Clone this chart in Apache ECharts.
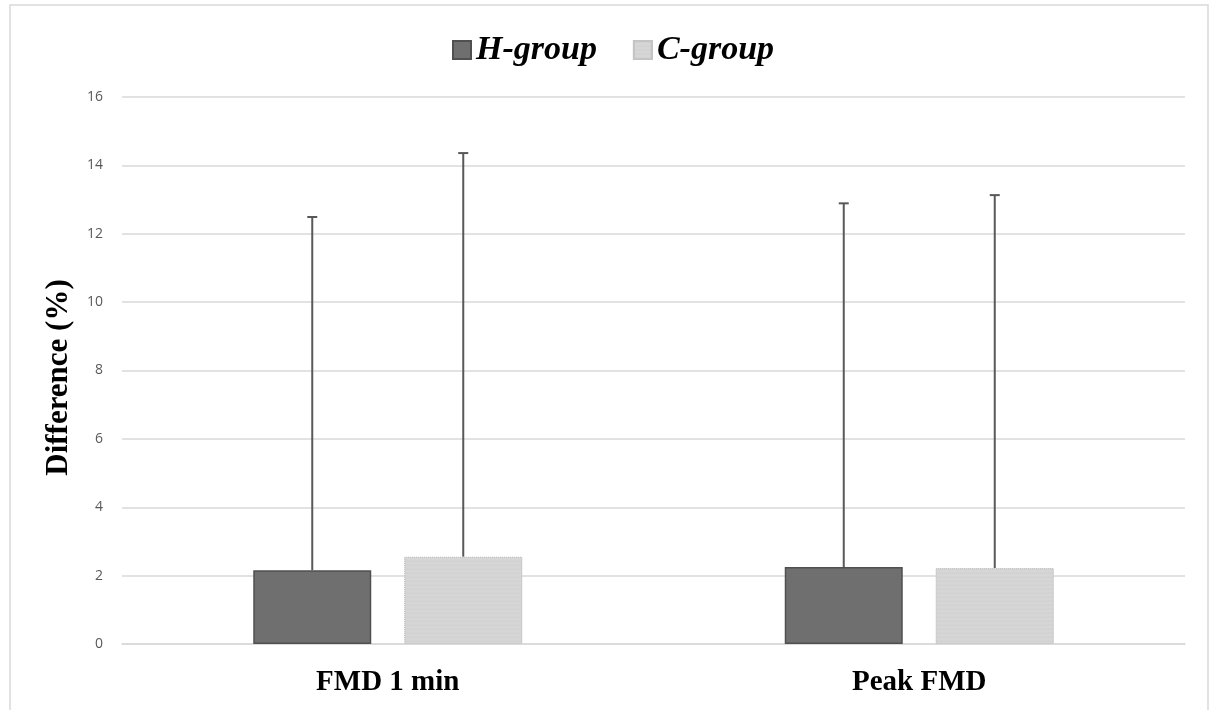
<!DOCTYPE html>
<html><head><meta charset="utf-8">
<script src="https://cdn.jsdelivr.net/npm/echarts@6/dist/echarts.min.js"></script>
<style>html,body{margin:0;padding:0;background:#fff}#c{width:1210px;height:710px}</style>
</head><body><div id="c"></div>
<script>
var categories = ['FMD 1 min', 'Peak FMD'];
var seriesNames = ['H-group', 'C-group'];
var hValues = [2.16, 2.25];
var cValues = [2.55, 2.22];
var hErrTop = [12.49, 12.89];
var cErrTop = [14.36, 13.13];
var yTicks = [0, 2, 4, 6, 8, 10, 12, 14, 16];

var BAR_W = 118, BAR_GAP = 33;
var chart = echarts.init(document.getElementById('c'));
function errSeries(vals, tops, side) {
  return {
    type: 'custom',
    z: 1,
    silent: true,
    data: vals.map(function (v, i) { return [i, v, tops[i]]; }),
    renderItem: function (params, api) {
      var lo = api.coord([api.value(0), api.value(1)]);
      var hi = api.coord([api.value(0), api.value(2)]);
      var x = lo[0] + side * (BAR_W + BAR_GAP) / 2;
      var st = { stroke: '#595959', lineWidth: 2 };
      return { type: 'group', children: [
        { type: 'line', shape: { x1: x, y1: lo[1], x2: x, y2: hi[1] }, style: st },
        { type: 'line', shape: { x1: x - 5, y1: hi[1], x2: x + 5, y2: hi[1] }, style: st }
      ]};
    }
  };
}
var option = {
  animation: false,
  backgroundColor: '#fff',
  graphic: [{ type: 'rect', shape: { x: 10, y: 5, width: 1198, height: 710 },
    style: { fill: 'none', stroke: '#d9d9d9', lineWidth: 1.5 }, silent: true }],
  legend: {
    data: seriesNames, top: 28, left: 447, itemWidth: 18, itemHeight: 18, itemGap: 36,
    icon: 'rect',
    textStyle: { fontFamily: 'Liberation Serif', fontStyle: 'italic', fontWeight: 'bold', fontSize: 34, color: '#000' }
  },
  grid: { left: 122, right: 25, top: 97, bottom: 66 },
  xAxis: {
    type: 'category', data: categories,
    axisLine: { lineStyle: { color: '#d9d9d9', width: 1.5 } },
    axisTick: { show: false },
    axisLabel: { fontFamily: 'Liberation Serif', fontWeight: 'bold', fontSize: 29, color: '#000', margin: 24 }
  },
  yAxis: {
    type: 'value', min: 0, max: 16, interval: 2,
    name: 'Difference (%)', nameLocation: 'middle', nameGap: 48, nameRotate: 90,
    nameTextStyle: { fontFamily: 'Liberation Serif', fontWeight: 'bold', fontSize: 31, color: '#000', padding: [0, 14, 0, 0] },
    axisLine: { show: false }, axisTick: { show: false },
    axisLabel: { color: '#595959', fontSize: 14, fontFamily: 'Open Sans', margin: 19,
      formatter: function (v) { return yTicks.indexOf(v) >= 0 ? String(v) : ''; } },
    splitLine: { lineStyle: { color: '#d9d9d9', width: 1.5 } }
  },
  series: [
    { name: 'H-group', type: 'bar', data: hValues, barWidth: BAR_W, barGap: (BAR_GAP / BAR_W * 100) + '%',
      itemStyle: { color: '#6f6f6f', borderColor: '#505050', borderWidth: 1.5 } },
    { name: 'C-group', type: 'bar', data: cValues, barWidth: BAR_W,
      itemStyle: { color: '#d6d6d6', borderColor: '#c4c4c4', borderWidth: 1, borderType: 'dotted',
        decal: { symbol: 'circle', symbolSize: 0.6, dashArrayX: [2, 0], dashArrayY: [2, 2], color: 'rgba(200,200,200,0.7)' } } },
    errSeries(hValues, hErrTop, -1),
    errSeries(cValues, cErrTop, 1)
  ]
};
chart.setOption(option);
</script></body></html>
